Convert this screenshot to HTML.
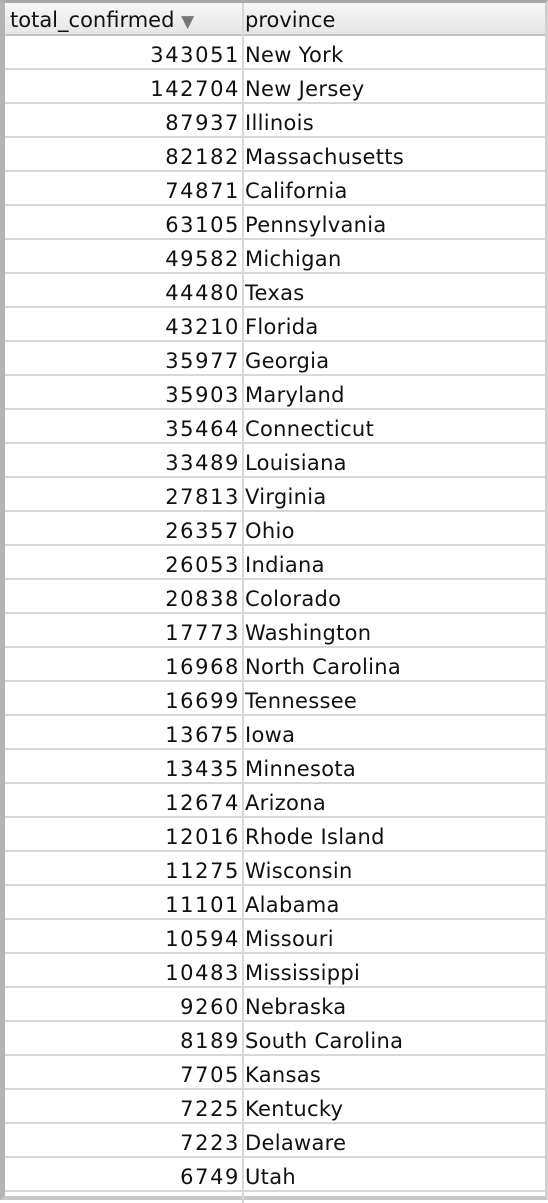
<!DOCTYPE html>
<html><head><meta charset="utf-8"><style>
body{margin:0;width:548px;height:1200px;background:#fff;overflow:hidden;font-family:"DejaVu Sans","Liberation Sans",sans-serif;}
#wrap{position:absolute;left:0;top:0;width:548px;height:1200px;box-sizing:border-box;border:5px solid #b4b4b4;border-top:3px solid #a8a8a8;border-right:3px solid #cfcfcf;border-bottom:4px solid #c8c8c8;}
.hdr{position:absolute;left:0;top:0;width:540px;height:31px;background:linear-gradient(#f7f7f7,#e6e6e6);border-bottom:2px solid #c4c4c4;}
.h{position:absolute;top:2px;height:31px;line-height:31px;font-size:21px;color:#111;}
.row{position:absolute;left:0;width:540px;height:34px;border-bottom:2px solid #d8d8d8;box-sizing:border-box;}
.num{position:absolute;left:0;top:3px;width:235px;text-align:right;font-size:21px;line-height:33px;color:#111;letter-spacing:1.6px}
.prov{position:absolute;left:240px;top:3px;font-size:21px;line-height:33px;color:#111;letter-spacing:0.3px}
.vline{position:absolute;left:237px;top:0;width:2px;height:1200px;background:#d8d8d8;}
</style></head><body>
<div id="wrap">
<div class="hdr">
<div class="h" style="left:5px">total_confirmed <span style="color:#777;font-size:17px">▼</span></div>
<div class="h" style="left:240px">province</div>
<div style="position:absolute;left:237px;top:0;width:2px;height:31px;background:#c4c4c4"></div>
</div>
<div class="vline"></div>
<div id="rows"></div>
</div>
<script>
const values=[343051,142704,87937,82182,74871,63105,49582,44480,43210,35977,35903,35464,33489,27813,26357,26053,20838,17773,16968,16699,13675,13435,12674,12016,11275,11101,10594,10483,9260,8189,7705,7225,7223,6749];
const provinces=["New York","New Jersey","Illinois","Massachusetts","California","Pennsylvania","Michigan","Texas","Florida","Georgia","Maryland","Connecticut","Louisiana","Virginia","Ohio","Indiana","Colorado","Washington","North Carolina","Tennessee","Iowa","Minnesota","Arizona","Rhode Island","Wisconsin","Alabama","Missouri","Mississippi","Nebraska","South Carolina","Kansas","Kentucky","Delaware","Utah"];
const rows=document.getElementById('rows');
values.forEach((v,i)=>{
 const r=document.createElement('div');r.className='row';r.style.top=(33+34*i)+'px';
 
 
 const n=document.createElement('div');n.className='num';n.textContent=v;
 
 
 const p=document.createElement('div');p.className='prov';p.textContent=provinces[i];
 
 
 r.appendChild(n);r.appendChild(p);rows.appendChild(r);
});
</script>
</body></html>
